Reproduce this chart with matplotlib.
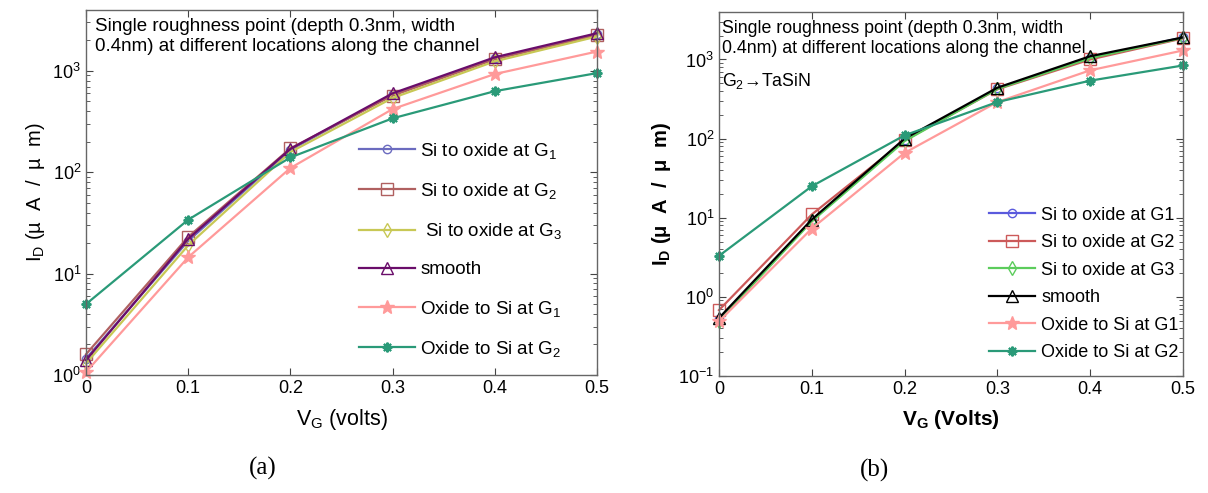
import matplotlib
matplotlib.use('Agg')
import matplotlib.pyplot as plt
import matplotlib.ticker as ticker

plt.rcParams['font.family'] = ['Liberation Sans', 'DejaVu Sans']
plt.rcParams['mathtext.fontset'] = 'custom'
plt.rcParams['mathtext.rm'] = 'Liberation Sans'
plt.rcParams['mathtext.it'] = 'Liberation Sans:italic'
plt.rcParams['mathtext.bf'] = 'Liberation Sans:bold'

# ── Data ──────────────────────────────────────────────────────────────────────
vg = [0.0, 0.1, 0.2, 0.3, 0.4, 0.5]

# (a) panel
a_si_g1 = [1.45, 21, 166, 585, 1330, 2300]
a_si_g2 = [1.6, 23, 172, 570, 1300, 2250]
a_si_g3 = [1.3, 19, 158, 540, 1240, 2180]
a_smooth = [1.4, 22, 170, 600, 1360, 2350]
a_ox_g1 = [1.07, 14.5, 110, 420, 930, 1550]
a_ox_g2 = [5.0, 34, 140, 340, 630, 950]

# (b) panel
b_si_g1 = [0.52, 9.3, 97, 430, 1050, 1900]
b_si_g2 = [0.68, 11, 95, 420, 1000, 1850]
b_si_g3 = [0.50, 9.0, 93, 425, 1040, 1880]
b_smooth = [0.54, 9.5, 100, 440, 1100, 1900]
b_ox_g1 = [0.49, 7.3, 66, 290, 730, 1300]
b_ox_g2 = [3.3, 25, 110, 290, 540, 840]

labels_a = ['Si to oxide at G$_1$', 'Si to oxide at G$_2$', ' Si to oxide at G$_3$',
            'smooth', 'Oxide to Si at G$_1$', 'Oxide to Si at G$_2$']
labels_b = ['Si to oxide at G1', 'Si to oxide at G2', 'Si to oxide at G3',
            'smooth', 'Oxide to Si at G1', 'Oxide to Si at G2']

NOTE = 'Single roughness point (depth 0.3nm, width\n0.4nm) at different locations along the channel'

# ── Styles ───────────────────────────────────────────────────────────────────
TEAL = '#2a9a78'
PINK = '#ff9a9a'
styles_a = [
    dict(color='#6b6bbf', marker='o', mfc='none', ms=6),
    dict(color='#b06060', marker='s', mfc='none', ms=8),
    dict(color='#c8c855', marker='d', mfc='none', ms=7),
    dict(color='#6a0d6a', marker='^', mfc='none', ms=8),
    dict(color=PINK, marker='*', ms=10),
    dict(color=TEAL, marker=(8, 2, 0), ms=7, mew=1.5),
]
styles_b = [
    dict(color='#5a5add', marker='o', mfc='none', ms=6),
    dict(color='#cc5a5a', marker='s', mfc='none', ms=8),
    dict(color='#5ccc5c', marker='d', mfc='none', ms=7),
    dict(color='black', marker='^', mfc='none', ms=8),
    dict(color=PINK, marker='*', ms=10),
    dict(color=TEAL, marker=(8, 2, 0), ms=7, mew=1.5),
]

W, H = 1208, 493
fig = plt.figure(figsize=(W / 100, H / 100), dpi=100)
fig.patch.set_facecolor('white')


def axes_px(x0, x1, y0, y1):
    return fig.add_axes([x0 / W, 1 - y1 / H, (x1 - x0) / W, (y1 - y0) / H])


def style_axes(ax, ymin):
    ax.set_yscale('log')
    ax.set_xlim(0, 0.5)
    ax.set_ylim(ymin, 10 ** 3.6)
    ax.set_xticks(vg)
    ax.xaxis.set_major_formatter(ticker.FuncFormatter(lambda v, p: '0' if v == 0 else f'{v:g}'))
    ax.yaxis.set_major_locator(ticker.LogLocator(base=10, numticks=10))
    ax.yaxis.set_minor_locator(ticker.LogLocator(base=10, subs=range(2, 10), numticks=20))
    ax.yaxis.set_minor_formatter(ticker.NullFormatter())
    ax.tick_params(which='both', direction='in', top=True, right=True,
                   labelsize=13, color='#444444')
    ax.tick_params(which='major', length=5)
    ax.tick_params(which='minor', length=3)
    for sp in ax.spines.values():
        sp.set_edgecolor('#666666')
        sp.set_linewidth(1.0)


# ── (a) ───────────────────────────────────────────────────────────────────────
ax1 = axes_px(86, 597, 10, 375)
for ys, lab, st in zip([a_si_g1, a_si_g2, a_si_g3, a_smooth, a_ox_g1, a_ox_g2], labels_a, styles_a):
    ax1.plot(vg, ys, lw=1.6, label=lab, clip_on=False, **st)
style_axes(ax1, 1)
ax1.set_xlabel(r'V$_\mathrm{G}$ (volts)', fontsize=15.5, labelpad=7)
ax1.set_ylabel(r'I$_\mathrm{D}$ (µ  A  /  µ  m)', fontsize=14.5, labelpad=4)
ax1.text(0.018, 0.978, NOTE, transform=ax1.transAxes, fontsize=13.5,
         va='top', ha='left', linespacing=1.2)
ax1.legend(loc='lower left', bbox_to_anchor=(0.534, 0.044), frameon=False,
           fontsize=13.5, handlelength=3.0, handletextpad=0.27, labelspacing=1.08,
           borderaxespad=0, borderpad=0)

# ── (b) ───────────────────────────────────────────────────────────────────────
ax2 = axes_px(719, 1183, 12, 376)
for ys, lab, st in zip([b_si_g1, b_si_g2, b_si_g3, b_smooth, b_ox_g1, b_ox_g2], labels_b, styles_b):
    ax2.plot(vg, ys, lw=1.6, label=lab, clip_on=False, **st)
style_axes(ax2, 0.1)
ax2.set_xlabel(r'$\mathbf{V_G}$ (Volts)', fontsize=15, fontweight='bold', labelpad=7)
ax2.set_ylabel(r'$\mathbf{I_D}$ ($\mathbf{\mu}$  A  /  $\mathbf{\mu}$  m)', fontsize=14.5,
               fontweight='bold', labelpad=4)
ax2.text(0.006, 0.978, NOTE, transform=ax2.transAxes, fontsize=12.8,
         va='top', ha='left', linespacing=1.2)
ax2.text(0.006, 0.81, 'G$_2$\u2192TaSiN', transform=ax2.transAxes, fontsize=12.8,
         va='center', ha='left')
ax2.legend(loc='lower left', bbox_to_anchor=(0.582, 0.041), frameon=False,
           fontsize=13, handlelength=2.55, handletextpad=0.33, labelspacing=0.58,
           borderaxespad=0, borderpad=0)

# ── Captions ─────────────────────────────────────────────────────────────────
fig.text(263 / W, 1 - 468 / H, '(a)', fontsize=18, family='Liberation Serif',
         ha='center', va='center')
fig.text(875 / W, 1 - 470 / H, '(b)', fontsize=18, family='Liberation Serif',
         ha='center', va='center')

fig.savefig('out.png', dpi=100, facecolor='white')
